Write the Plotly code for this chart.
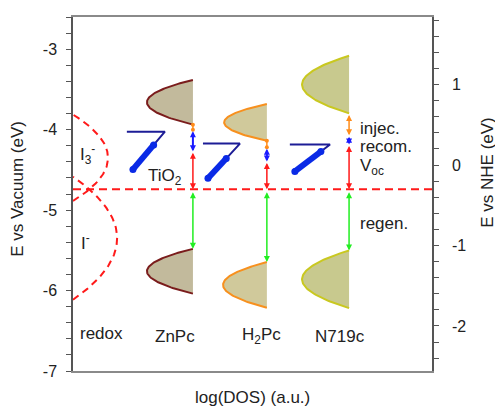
import numpy as np
import plotly.graph_objects as go

# ---------------- data ----------------
NHE_OFFSET = 4.44            # E(NHE) = E(vacuum) + 4.44
E_redox = -4.74              # redox (Fermi) level of electrolyte, eV vs vacuum

dye_names = ["ZnPc", "H<sub>2</sub>Pc", "N719c"]
dye_level_x = [3.34, 5.40, 7.69]          # log(DOS) edge of dye DOS
lumo_center = [-3.66, -3.91, -3.44]
lumo_halfwidth = [0.278, 0.228, 0.358]
lumo_tip_x = [2.06, 4.21, 6.38]
homo_center = [-5.76, -5.93, -5.86]
homo_halfwidth = [0.278, 0.284, 0.358]
homo_tip_x = [2.06, 4.18, 6.38]

# TiO2 exponential tail DOS (one per dye cell)
tio2_cb_E = [-4.025, -4.173, -4.185]
tio2_cb_left_x = [1.50, 3.62, 6.04]
tio2_cb_right_x = [2.56, 4.65, 7.16]
tio2_tail_end_x = [1.67, 3.76, 6.18]
tio2_tail_end_E = [-4.494, -4.605, -4.519]
tio2_occupied_top_E = [-4.19, -4.358, -4.272]

# transition levels along each dye's vertical
inj_end_E = [-4.00, -4.22, -4.07]         # injection arrives
fermi_E = [-4.27, -4.395, -4.185]         # TiO2 quasi-Fermi level

# electrolyte redox DOS (I3-, I-)
redox_center = [-4.35, -5.35]
redox_halfwidth = [0.537, 0.765]
redox_tip_x = [0.975, 1.23]

# tick labels
vac_tickvals = [-7, -6, -5, -4, -3]
vac_ticktext = ["-7", "-6", "-5", "-4", "-3"]
nhe_tickvals = [-2, -1, 0, 1]
nhe_ticktext = ["-2", "-1", "0", "1"]

# ---------------- styles ----------------
fill_cols = ["#c2ba9c", "#d0c99b", "#c8c98e"]
line_cols = ["#7a1c1c", "#f7901e", "#c9c820"]
FONT = "Liberation Sans, Arial, sans-serif"
TXT = "#222222"

fig = go.Figure()

def dos_shape(center, half, tip, edge, fcol, lcol):
    E = np.linspace(center - half, center + half, 80)
    x = tip + (edge - tip) * ((E - center) / half) ** 2
    fig.add_trace(go.Scatter(x=np.append(x, x[0]), y=np.append(E, E[0]), mode="lines",
                             fill="toself", fillcolor=fcol, line=dict(width=0),
                             hoverinfo="skip"))
    fig.add_trace(go.Scatter(x=x, y=E, mode="lines", line=dict(color=lcol, width=2),
                             hoverinfo="skip"))

for i in range(3):
    dos_shape(lumo_center[i], lumo_halfwidth[i], lumo_tip_x[i], dye_level_x[i], fill_cols[i], line_cols[i])
    dos_shape(homo_center[i], homo_halfwidth[i], homo_tip_x[i], dye_level_x[i], fill_cols[i], line_cols[i])

# TiO2 DOS
for i in range(3):
    fig.add_trace(go.Scatter(x=[tio2_cb_left_x[i], tio2_cb_right_x[i], tio2_tail_end_x[i]],
                             y=[tio2_cb_E[i], tio2_cb_E[i], tio2_tail_end_E[i]],
                             mode="lines", line=dict(color="#1c1c96", width=2), hoverinfo="skip"))
    frac = (tio2_occupied_top_E[i] - tio2_cb_E[i]) / (tio2_tail_end_E[i] - tio2_cb_E[i])
    x_top = tio2_cb_right_x[i] + frac * (tio2_tail_end_x[i] - tio2_cb_right_x[i])
    fig.add_trace(go.Scatter(x=[x_top, tio2_tail_end_x[i]], y=[tio2_occupied_top_E[i], tio2_tail_end_E[i]],
                             mode="lines+markers", line=dict(color="#0a2ae6", width=6),
                             marker=dict(color="#0a2ae6", size=7, line=dict(width=0)),
                             hoverinfo="skip"))

# redox DOS (dashed parabolas)
for c, h, t in zip(redox_center, redox_halfwidth, redox_tip_x):
    E = np.linspace(c - h, c + h, 80)
    x = t * (1 - ((E - c) / h) ** 2)
    fig.add_trace(go.Scatter(x=x, y=E, mode="lines",
                             line=dict(color="#ff1a1a", width=2, dash="7px,5px"), hoverinfo="skip"))

# redox level
fig.add_trace(go.Scatter(x=[0, 10], y=[E_redox, E_redox], mode="lines",
                         line=dict(color="#ff1a1a", width=2, dash="8px,5px"), hoverinfo="skip"))

# invisible trace for the NHE axis
fig.add_trace(go.Scatter(x=[0], y=[0], yaxis="y2", mode="markers",
                         marker=dict(opacity=0), hoverinfo="skip"))

annotations = []

def arrow(x, y0, y1, color, width=1.5, size=0.8):
    both = abs(y1 - y0) > 0.09
    if not both:
        fig.add_trace(go.Scatter(x=[x, x], y=[y0, y1], mode="lines+markers",
                                 line=dict(color=color, width=width),
                                 marker=dict(size=4, color=color), hoverinfo="skip"))
        return
    annotations.append(dict(x=x, y=y1, ax=x, ay=y0, xref="x", yref="y", axref="x", ayref="y",
                            text="", showarrow=True, arrowhead=2, arrowsize=size, arrowwidth=width,
                            arrowcolor=color, arrowside="end+start",
                            standoff=0, startstandoff=0))

for i in range(3):
    lumo_edge = lumo_center[i] - lumo_halfwidth[i]
    homo_edge = homo_center[i] + homo_halfwidth[i]
    x = dye_level_x[i]
    arrow(x, lumo_edge, inj_end_E[i], "#ff8c1a")
    arrow(x, inj_end_E[i], fermi_E[i], "#1a1aff", width=2, size=0.6)
    arrow(x, fermi_E[i], E_redox, "#ff1a1a")
    arrow(x, E_redox - 0.02, homo_edge, "#22ee22")

def label(x, y, text, xanchor="center", size=17):
    annotations.append(dict(x=x, y=y, xref="x", yref="y", text=text, showarrow=False,
                            xanchor=xanchor, yanchor="middle", font=dict(size=size, color=TXT)))

label(0.78, -6.53, "redox")
label(2.84, -6.57, dye_names[0])
label(5.24, -6.57, dye_names[1])
label(7.44, -6.57, dye_names[2])
label(0.40, -4.31, "I<sub>3</sub><sup>-</sup>")
label(0.36, -5.40, "I<sup>-</sup>")
label(2.56, -4.59, "TiO<sub>2</sub>")
label(7.95, -3.99, "injec.", xanchor="left")
label(7.95, -4.21, "recom.", xanchor="left")
label(7.95, -4.46, "V<sub>oc</sub>", xanchor="left")
label(7.95, -5.17, "regen.", xanchor="left")

# axis titles
annotations.append(dict(x=-0.153, y=0.515, xref="paper", yref="paper", text="E vs Vacuum (eV)",
                        textangle=-90, showarrow=False, xanchor="center", yanchor="middle",
                        font=dict(size=17, color=TXT)))
annotations.append(dict(x=1.156, y=0.56, xref="paper", yref="paper", text="E vs NHE (eV)",
                        textangle=-90, showarrow=False, xanchor="center", yanchor="middle",
                        font=dict(size=17, color=TXT)))
annotations.append(dict(x=0.5, y=-0.076, xref="paper", yref="paper", text="log(DOS) (a.u.)",
                        showarrow=False, xanchor="center", yanchor="middle",
                        font=dict(size=17, color=TXT)))

axcol = "#555555"
fig.update_layout(
    width=495, height=404,
    margin=dict(l=65, r=71, t=7, b=41),
    paper_bgcolor="white", plot_bgcolor="white",
    showlegend=False,
    font=dict(family=FONT, size=16, color=TXT),
    annotations=annotations,
    xaxis=dict(range=[0, 10], showgrid=False, zeroline=False, showticklabels=False,
               ticks="", showline=True, mirror=True, linecolor="#8a8a8a", linewidth=1.5),
    yaxis=dict(range=[-7, -2.6], tickvals=vac_tickvals, ticktext=vac_ticktext,
               showgrid=False, zeroline=False,
               showline=True, linecolor=axcol, linewidth=1.5, ticks="outside", ticklen=5,
               tickcolor=axcol, tickwidth=1.2, ticklabelstandoff=6,
               minor=dict(dtick=0.2, tick0=-7, ticks="outside", ticklen=5, tickcolor=axcol, tickwidth=1.2),
               tickfont=dict(size=16, color=TXT)),
    yaxis2=dict(range=[-7 + NHE_OFFSET, -2.6 + NHE_OFFSET], overlaying="y", side="right", anchor="x",
                tickvals=nhe_tickvals, ticktext=nhe_ticktext, showgrid=False, zeroline=False,
                showline=True, linecolor=axcol, linewidth=1.5, ticks="outside", ticklen=5,
                tickcolor=axcol, tickwidth=1.2, ticklabelstandoff=10,
                minor=dict(dtick=0.2, tick0=0, ticks="outside", ticklen=5, tickcolor=axcol, tickwidth=1.2),
                tickfont=dict(size=16, color=TXT)),
)

fig.write_html("out.html")
